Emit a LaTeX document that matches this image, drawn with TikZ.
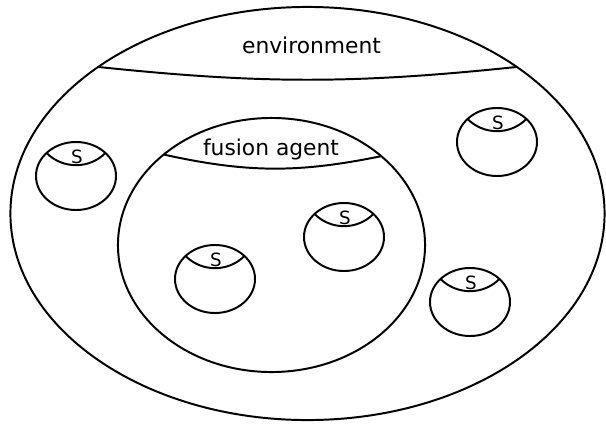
\documentclass[tikz,border=0pt]{standalone}
\usepackage{fontspec}
\setmainfont{DejaVu Sans}
\usetikzlibrary{shapes.geometric}

\begin{document}
\begin{tikzpicture}[x=0.025cm, y=-0.025cm, line width=1.4pt,
	sensor/.style={ellipse, draw, minimum width=2cm, minimum height=1.7cm, inner sep=0pt, outer sep=0pt},
	region/.style={ellipse, draw, inner sep=0pt, outer sep=0pt},
	nametext/.style={anchor=base, inner sep=0pt, font=\fontsize{15.5}{18}\selectfont},
	sensortext/.style={anchor=base, inner sep=0pt, font=\fontsize{13}{15}\selectfont}]
	\useasboundingbox (0,0) rectangle (606,423);
	% The environment around everything
	\node[region, minimum width=14.85cm, minimum height=10.325cm] (env) at (307.5,213.5) {};
	\draw (env.145) to[bend right=6] (env.35);
	\node[nametext] (envtext) at (311.5,53) {environment};
	% The fusion agent inside it
	\node[region, minimum width=7.675cm, minimum height=6.35cm] (fusion) at (271.5,245) {};
	\draw (fusion.140) to[bend right=12] (fusion.39);
	\node[nametext] (fusiontext) at (271,155) {fusion agent};
	% The sensors, each with its cap
	\foreach \name/\x/\y in {s1/76/176, s2/497/142, s3/344/237, s4/215/279, s5/470/302} {
		\node[sensor] (\name) at (\x,\y) {};
		\draw (\name.142) to[bend right=45] (\name.38);
		\node[sensortext] (\name-txt) at (\x+1,\y-13) {S};
	}
\end{tikzpicture}
\end{document}
